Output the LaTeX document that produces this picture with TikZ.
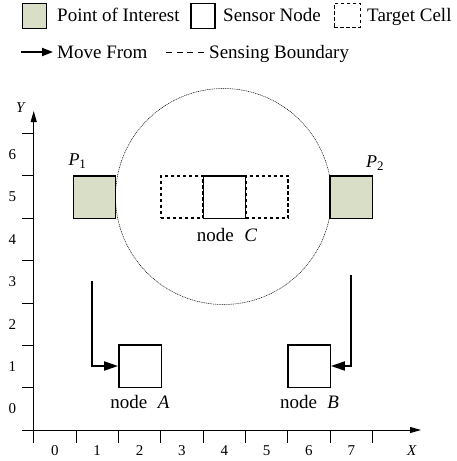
\documentclass[tikz,border=0pt]{standalone}
\usepackage{fontspec}
\setmainfont{Liberation Serif}
\usetikzlibrary{arrows.meta}
\definecolor{poi}{HTML}{D9DEC7}
\tikzset{
  big/.style={font=\fontsize{19}{22}\selectfont, inner sep=0pt},
  small/.style={font=\fontsize{15}{18}\selectfont, inner sep=0pt},
  cellbox/.style={draw, line width=1.4pt, minimum width=42.4pt, minimum height=42.4pt, inner sep=0pt},
  poibox/.style={cellbox, fill=poi},
  tgtbox/.style={draw, line width=1.6pt, dash pattern=on 3.5pt off 2.5pt, minimum width=42.4pt, minimum height=42.4pt, inner sep=0pt},
  axis/.style={line width=0.9pt},
  tickln/.style={line width=0.9pt},
  movearrow/.style={line width=1.9pt, -{Triangle[length=14pt,width=9pt]}},
  boundary/.style={line width=0.5pt, dash pattern=on 1pt off 0.8pt},
}
\begin{document}
\begin{tikzpicture}[x=1pt,y=-1pt]
\useasboundingbox (0,0) rectangle (456,461);
% ---------- legend ----------
\node[draw, line width=1.3pt, fill=poi, minimum width=24pt, minimum height=25pt, inner sep=0pt] (lgpoi) at (34.3,16) {};
\node[big, anchor=base west] (lgpoit) at (57,21.7) {Point of Interest};
\node[draw, line width=1.3pt, minimum width=24pt, minimum height=25pt, inner sep=0pt] (lgsn) at (203,16) {};
\node[big, anchor=base west] (lgsnt) at (223,21.7) {Sensor Node};
\node[draw, line width=1.6pt, dash pattern=on 3.5pt off 2.5pt, minimum width=26pt, minimum height=24pt, inner sep=0pt] (lgtc) at (347.3,15.3) {};
\node[big, anchor=base west] (lgtct) at (367,21.7) {Target Cell};
\coordinate (lgma) at (21,52);
\coordinate (lgmb) at (53,52);
\draw[line width=1.9pt, -{Triangle[length=11pt,width=8pt]}] (lgma) -- (lgmb);
\node[big, anchor=base west] (lgmft) at (57,58.3) {Move From};
\coordinate (lgba) at (166,52);
\coordinate (lgbb) at (207,52);
\draw[line width=0.6pt, dash pattern=on 6pt off 4.5pt] (lgba) -- (lgbb);
\node[big, anchor=base west] (lgsbt) at (209,58.3) {Sensing Boundary};
% ---------- axes ----------
\coordinate (xs) at (22,430);
\coordinate (xe) at (421,430);
\coordinate (ys) at (33.7,443);
\coordinate (ye) at (33.7,111);
\draw[axis, -{Triangle[length=11pt,width=6pt]}] (xs) -- (xe);
\draw[axis, -{Triangle[length=11pt,width=6pt]}] (ys) -- (ye);
\foreach \k in {1,...,8} {
  \draw[tickln] ({33.7+42.35*\k},430) -- ({33.7+42.35*\k},443);
}
\foreach \k in {1,...,7} {
  \draw[tickln] (22,{430-42.35*\k}) -- (33.7,{430-42.35*\k});
}
\foreach \k in {0,...,7} {
  \node[small] (xl\k) at ({33.7+42.35*(\k+0.5)},451) {\k};
}
\foreach \k in {0,...,6} {
  \node[small] (yl\k) at (12.5,{430-42.35*(\k+0.5)}) {\k};
}
\node[small] (xlab) at (412,451) {\textit{X}};
\node[small] (ylab) at (21,108) {\textit{Y}};
% ---------- sensing boundary ----------
\node[draw, boundary, circle, minimum size=216pt, inner sep=0pt] (circ) at (223.5,196.5) {};
% ---------- cells ----------
\node[poibox] (p1) at (94.5,197) {};
\node[poibox] (p2) at (351.3,197) {};
\node[tgtbox] (tc1) at (182,197) {};
\node[tgtbox] (tc2) at (267,197) {};
\node[cellbox, fill=white] (nc) at (224.5,197) {};
\node[cellbox] (na) at (140,366) {};
\node[cellbox] (nb) at (309,366) {};
% ---------- labels ----------
\node[font=\fontsize{18}{20}\selectfont, inner sep=0pt, anchor=base west] (p1l) at (68.3,165) {\textit{P}\raisebox{-0.4ex}{\fontsize{13}{13}\selectfont 1}};
\node[font=\fontsize{18}{20}\selectfont, inner sep=0pt, anchor=base west] (p2l) at (366,167) {\textit{P}\raisebox{-0.4ex}{\fontsize{13}{13}\selectfont 2}};
\node[big, anchor=base] (nal) at (140,408.3) {node\hspace{0.55em}\textit{A}};
\node[big, anchor=base] (nbl) at (309.5,408.3) {node\hspace{0.55em}\textit{B}};
\node[big, anchor=base] (ncl) at (227,241) {node\hspace{0.55em}\textit{C}};
% ---------- move arrows ----------
\coordinate (as) at (91.7,280.7);
\coordinate (bs) at (351,275);
\draw[movearrow] (as) |- (na.west);
\draw[movearrow] (bs) |- (nb.east);
\end{tikzpicture}
\end{document}
